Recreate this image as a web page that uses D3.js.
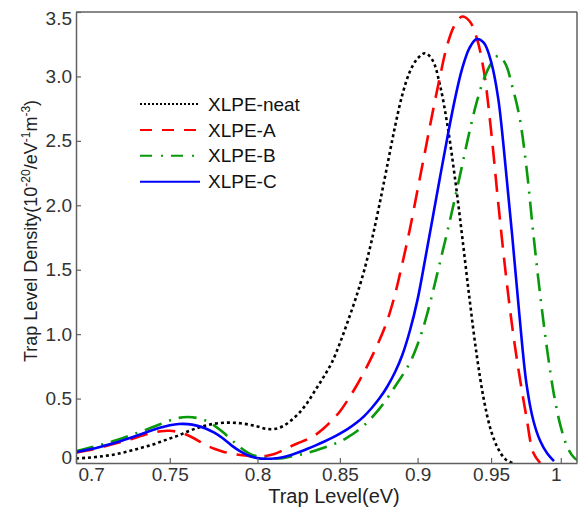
<!DOCTYPE html>
<html><head><meta charset="utf-8">
<script src="https://cdn.jsdelivr.net/npm/d3@7"></script>
<style>
body{margin:0;background:#fff}
svg{display:block}
text{font-family:"Liberation Sans",Arial,sans-serif}
</style>
</head><body>
<svg id="chart" width="579" height="509"></svg>
<script>
// ---- data ----
const trapLevel = [0.700,0.705,0.710,0.715,0.720,0.725,0.730,0.735,0.740,0.745,
  0.750,0.755,0.760,0.765,0.770,0.775,0.780,0.785,0.790,0.795,
  0.800,0.805,0.810,0.815,0.820,0.825,0.830,0.835,0.840,0.845,
  0.850,0.855,0.860,0.865,0.870,0.875,0.880,0.885,0.890,0.895,
  0.900,0.905,0.910,0.915,0.920,0.925,0.930,0.935,0.940,0.945,
  0.950,0.955,0.960,0.965,0.970,0.975,0.980,0.985,0.990,0.995,
  1.000,1.005,1.010,1.015];
const xlpeNeat = [0.035,0.040,0.046,0.055,0.066,0.082,0.100,0.120,0.140,0.165,
  0.190,0.215,0.245,0.270,0.290,0.305,0.312,0.313,0.308,0.298,
  0.283,0.266,0.264,0.285,0.330,0.390,0.470,0.570,0.670,0.780,
  0.930,1.100,1.280,1.480,1.720,2.000,2.300,2.600,2.860,3.040,
  3.140,3.180,3.125,2.930,2.620,2.220,1.760,1.280,0.840,0.490,
  0.250,0.110,0.030,0.000,null,null,null,null,null,null,
  null,null,null,null];
const xlpeA = [0.080,0.095,0.110,0.130,0.150,0.170,0.190,0.213,0.233,0.247,
  0.250,0.240,0.215,0.180,0.140,0.110,0.088,0.073,0.062,0.054,
  0.050,0.055,0.070,0.098,0.130,0.158,0.185,0.220,0.270,0.330,
  0.400,0.490,0.590,0.700,0.820,0.950,1.100,1.300,1.550,1.820,
  2.120,2.420,2.720,3.000,3.250,3.400,3.465,3.430,3.300,3.040,
  2.580,2.020,1.500,1.050,0.680,0.360,0.080,0.000,null,null,
  null,null,null,null];
const xlpeB = [0.093,0.110,0.130,0.150,0.172,0.197,0.222,0.248,0.275,0.303,
  0.330,0.350,0.357,0.350,0.330,0.290,0.238,0.178,0.120,0.075,
  0.050,0.040,0.036,0.038,0.050,0.063,0.078,0.097,0.118,0.140,
  0.165,0.200,0.240,0.290,0.350,0.420,0.500,0.590,0.680,0.780,
  0.920,1.100,1.320,1.560,1.800,2.050,2.310,2.570,2.800,2.980,
  3.100,3.160,3.100,2.920,2.690,2.300,1.780,1.300,0.880,0.530,
  0.280,0.120,0.040,0.010];
const xlpeC = [0.085,0.100,0.115,0.135,0.155,0.178,0.202,0.227,0.252,0.275,
  0.293,0.303,0.302,0.290,0.268,0.235,0.190,0.135,0.090,0.056,
  0.038,0.033,0.035,0.045,0.062,0.085,0.110,0.137,0.165,0.195,
  0.228,0.265,0.308,0.360,0.425,0.500,0.590,0.700,0.840,1.030,
  1.270,1.580,1.900,2.220,2.530,2.820,3.060,3.220,3.290,3.260,
  3.115,2.830,2.320,1.750,1.150,0.620,0.330,0.170,0.075,0.015,
  null,null,null,null];
const seriesNames = ["XLPE-neat","XLPE-A","XLPE-B","XLPE-C"];
const xTicks = [0.7,0.75,0.8,0.85,0.9,0.95,1];
const xTickLabels = ["0.7","0.75","0.8","0.85","0.9","0.95","1"];
const yTicks = [0,0.5,1,1.5,2,2.5,3,3.5];
const yTickLabels = ["0","0.5","1.0","1.5","2.0","2.5","3.0","3.5"];

// ---- styles ----
const styles = [
  {color:"#000000", dash:"3,3",        legendDash:"2,2"},
  {color:"#ff0000", dash:"18,10",      legendDash:"12,10"},
  {color:"#0a990a", dash:"18,8,2,8",   legendDash:"12,9,2,8"},
  {color:"#0000ff", dash:null,         legendDash:null}
];
const seriesValues = [xlpeNeat, xlpeA, xlpeB, xlpeC];

const svg = d3.select("#chart");
const L = 76, R = 577, T = 12, B = 463;
const x = d3.scaleLog().domain([0.7, 1.012]).range([L, R]);
const y = d3.scaleLinear().domain([0, 3.5]).range([B, T]);

svg.append("defs").append("clipPath").attr("id","clip")
  .append("rect").attr("x",L).attr("y",T).attr("width",R-L).attr("height",B-T);

// curves
const line = d3.line()
  .defined(d => d[1] !== null)
  .x(d => x(d[0])).y(d => y(d[1]))
  .curve(d3.curveCatmullRom.alpha(0.5));
const g = svg.append("g").attr("clip-path","url(#clip)");
seriesValues.forEach((vals, i) => {
  const pts = trapLevel.map((t, j) => [t, vals[j]]);
  g.append("path").datum(pts)
    .attr("d", line)
    .attr("fill","none")
    .attr("stroke", styles[i].color)
    .attr("stroke-width", 2.6)
    .attr("stroke-dasharray", styles[i].dash)
    .attr("stroke-linecap","butt");
});

// axes
const axisColor = "#606060";
const xAxis = svg.append("g").attr("transform",`translate(0,${B})`)
  .call(d3.axisBottom(x).tickValues(xTicks)
    .tickFormat((d,i) => xTickLabels[i]).tickSizeInner(-5).tickSizeOuter(0).tickPadding(5));
const yAxis = svg.append("g").attr("transform",`translate(${L},0)`)
  .call(d3.axisLeft(y).tickValues(yTicks)
    .tickFormat((d,i) => yTickLabels[i]).tickSizeInner(-5).tickSizeOuter(0).tickPadding(4));
[xAxis, yAxis].forEach(a => {
  a.select(".domain").attr("stroke", axisColor).attr("stroke-width",1.5);
  a.selectAll(".tick line").attr("stroke", axisColor).attr("stroke-width",1.2);
  a.selectAll(".tick text").attr("fill","#333").style("font-size","19px")
    .style("font-family",'"Liberation Sans",Arial,sans-serif');
});
// nudge edge labels inward as in reference
xAxis.selectAll(".tick text").filter(d => d === 0.7).attr("text-anchor","start").attr("x", 2);
xAxis.selectAll(".tick text").filter(d => d === 1).attr("x", -5);
yAxis.selectAll(".tick text").filter(d => d === 3.5).attr("dy","0.68em");
yAxis.selectAll(".tick text").filter(d => d === 0).attr("dy","0.03em");

// box top/right
svg.append("line").attr("x1",L).attr("x2",R).attr("y1",T).attr("y2",T)
  .attr("stroke",axisColor).attr("stroke-width",1.5);
svg.append("line").attr("x1",R).attr("x2",R).attr("y1",T).attr("y2",B)
  .attr("stroke",axisColor).attr("stroke-width",1.5);

// axis titles
svg.append("text").attr("x",334).attr("y",503).attr("text-anchor","middle")
  .attr("fill","#222").style("font-size","20px").text("Trap Level(eV)");
const yt = svg.append("text").attr("transform","translate(37,231) rotate(-90)")
  .attr("text-anchor","middle").attr("fill","#222").style("font-size","18px");
yt.append("tspan").text("Trap Level Density(10");
yt.append("tspan").attr("dy",-7).style("font-size","12px").text("-20");
yt.append("tspan").attr("dy",7).text("/eV");
yt.append("tspan").attr("dy",-7).style("font-size","12px").text("-1");
yt.append("tspan").attr("dy",7).text("m");
yt.append("tspan").attr("dy",-7).style("font-size","12px").text("-3");
yt.append("tspan").attr("dy",7).text(")");

// legend
const leg = svg.append("g");
seriesNames.forEach((name, i) => {
  const cy = 104 + i*25.9;
  leg.append("line").attr("x1",140).attr("x2",200).attr("y1",cy).attr("y2",cy)
    .attr("stroke",styles[i].color).attr("stroke-width",2)
    .attr("stroke-dasharray",styles[i].legendDash);
  leg.append("text").attr("x",208).attr("y",cy).attr("dy","0.35em")
    .attr("fill","#111").style("font-size","19px").text(name);
});
</script>
</body></html>
